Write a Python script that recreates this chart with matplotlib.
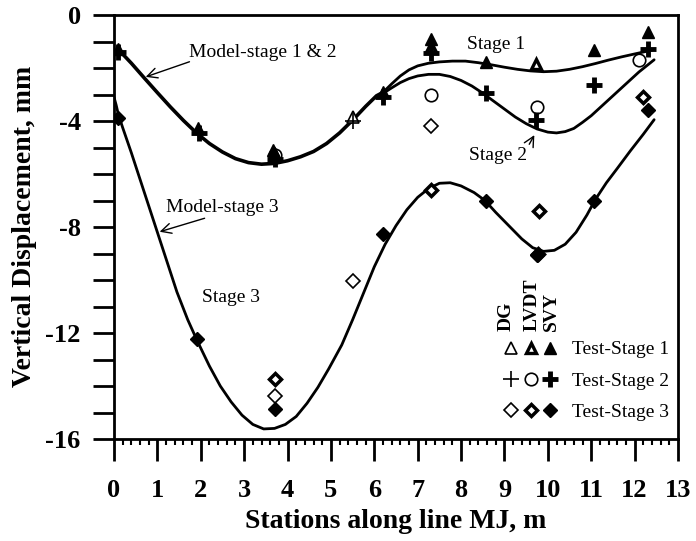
import matplotlib
matplotlib.use("Agg")
import matplotlib.pyplot as plt
from matplotlib.ticker import MultipleLocator, FixedLocator
from matplotlib.legend_handler import HandlerTuple
from matplotlib.lines import Line2D

plt.rcParams["font.family"] = ["Liberation Serif", "DejaVu Serif"]
plt.rcParams["axes.unicode_minus"] = False

# model curves
common_x = [0.1, 0.4, 0.7, 1.0, 1.3, 1.6, 1.9, 2.2, 2.5, 2.8, 3.1, 3.4, 3.7, 4.0, 4.3,
            4.6, 4.9, 5.2, 5.5, 5.8, 6.05, 6.2]
common_y = [-1.3, -1.82, -2.38, -2.93, -3.47, -3.98, -4.45, -4.85, -5.17, -5.42, -5.57,
            -5.63, -5.6, -5.5, -5.35, -5.15, -4.85, -4.45, -3.97, -3.45, -3.05, -2.92]

s1_x = [6.2, 6.4, 6.6, 6.8, 7.0, 7.25, 7.5, 7.8, 8.1, 8.4, 8.7, 9.0, 9.3, 9.6, 9.9,
        10.2, 10.5, 10.8, 11.1, 11.4, 11.7, 12.0, 12.25, 12.45]
s1_y = [-2.92, -2.6, -2.3, -2.07, -1.92, -1.82, -1.77, -1.74, -1.74, -1.8, -1.88, -1.97,
        -2.05, -2.11, -2.14, -2.12, -2.05, -1.95, -1.83, -1.7, -1.58, -1.47, -1.38, -1.3]

s2_x = [6.2, 6.4, 6.6, 6.8, 7.0, 7.25, 7.5, 7.75, 8.0, 8.25, 8.5, 8.75, 9.0, 9.25, 9.5,
        9.75, 10.0, 10.2, 10.4, 10.6, 10.8, 11.0, 11.2, 11.5, 11.8, 12.1, 12.45]
s2_y = [-2.96, -2.75, -2.55, -2.4, -2.3, -2.24, -2.24, -2.32, -2.47, -2.68, -2.95, -3.25,
        -3.55, -3.85, -4.1, -4.3, -4.42, -4.45, -4.4, -4.28, -4.05, -3.8, -3.5, -3.05,
        -2.6, -2.15, -1.69]

s3_x = [0.0, 0.05, 0.1, 0.2, 0.4, 0.6, 0.8, 1.0, 1.2, 1.45, 1.7, 1.92, 2.2, 2.45, 2.7,
        2.95, 3.2, 3.45, 3.7, 3.95, 4.2, 4.45, 4.7, 4.95, 5.25, 5.5, 5.75, 6.0, 6.25,
        6.5, 6.75, 7.0, 7.25, 7.5, 7.75, 8.0, 8.3, 8.55, 8.8, 9.1, 9.4, 9.65, 9.9,
        10.15, 10.4, 10.65, 10.9, 11.1, 11.35, 11.6, 11.9, 12.2, 12.45]
s3_y = [-3.1, -3.4, -3.75, -4.25, -5.2, -6.2, -7.2, -8.2, -9.2, -10.45, -11.5, -12.3,
        -13.25, -14.0, -14.6, -15.1, -15.45, -15.62, -15.6, -15.45, -15.15, -14.65,
        -14.05, -13.35, -12.45, -11.5, -10.5, -9.5, -8.65, -7.95, -7.35, -6.88, -6.55,
        -6.35, -6.33, -6.45, -6.7, -7.0, -7.45, -7.95, -8.45, -8.78, -8.92, -8.88,
        -8.65, -8.2, -7.55, -6.95, -6.33, -5.79, -5.13, -4.5, -3.95]

# test data: DG / LVDT / SVY for each stage
dg1_x, dg1_y = [5.5], [-3.85]
lv1_x, lv1_y = [3.7, 7.3, 9.72], [-5.3, -1.2, -1.85]
sv1_x = [0.09, 1.93, 3.67, 6.2, 7.3, 8.57, 11.06, 12.31]
sv1_y = [-1.3, -4.26, -5.1, -2.9, -0.9, -1.77, -1.32, -0.63]

dg2_x, dg2_y = [5.5], [-4.0]
lv2_x, lv2_y = [3.7, 7.3, 9.75, 12.1], [-5.3, -3.0, -3.47, -1.7]
sv2_x = [0.09, 1.95, 3.7, 6.2, 7.3, 8.57, 9.72, 11.06, 12.31]
sv2_y = [-1.38, -4.45, -5.45, -3.1, -1.45, -2.95, -3.97, -2.65, -1.3]

dg3_x, dg3_y = [3.72, 5.52, 7.3], [-14.38, -10.02, -4.2]
lv3_x, lv3_y = [3.72, 7.3, 9.8, 9.78, 12.19], [-13.74, -6.59, -7.4, -9.0, -3.1]
sv3_x = [0.09, 1.92, 3.72, 6.2, 8.57, 9.75, 11.06, 12.31]
sv3_y = [-3.88, -12.24, -14.87, -8.25, -7.0, -9.05, -7.0, -3.6]

x_ticks = list(range(0, 14))
y_ticks = [0, -4, -8, -12, -16]

fig = plt.figure(figsize=(6.96, 5.41), dpi=100)
ax = fig.add_axes([114 / 696, 1 - 439 / 541, 564 / 696, 424 / 541])

line_kw = dict(color="black", solid_joinstyle="round", solid_capstyle="round", zorder=2)
ax.plot(common_x, common_y, lw=2.6, **line_kw)
ax.plot(s1_x, s1_y, lw=2.0, **line_kw)
ax.plot(s2_x, s2_y, lw=2.0, **line_kw)
ax.plot(s3_x, s3_y, lw=2.0, **line_kw)

# marker styles
tri_dg = dict(marker="^", ms=8, mfc="white", mec="black", mew=1.2, ls="none")
tri_lv = dict(marker="^", ms=6.5, mfc="white", mec="black", mew=2.4, ls="none")
tri_sv = dict(marker="^", ms=8, mfc="black", mec="black", ls="none")
pl_dg = dict(marker="+", ms=11, mec="black", mew=1.2, ls="none")
ci_lv = dict(marker="o", ms=9, mfc="white", mec="black", mew=1.2, ls="none")
pl_sv = dict(marker="+", ms=11, mec="black", mew=3.5, ls="none")
di_dg = dict(marker="D", ms=7, mfc="white", mec="black", mew=1.2, ls="none")
di_lv = dict(marker="D", ms=6.3, mfc="white", mec="black", mew=2.5, ls="none")
di_sv = dict(marker="D", ms=7, mfc="black", mec="black", ls="none")

ax.plot(lv2_x, lv2_y, zorder=3, **ci_lv)
ax.plot(dg1_x, dg1_y, zorder=3, **tri_dg)
ax.plot(lv1_x, lv1_y, zorder=3, **tri_lv)
ax.plot(sv1_x, sv1_y, zorder=3, **tri_sv)
ax.plot(dg2_x, dg2_y, zorder=3, **pl_dg)
ax.plot(sv2_x, sv2_y, zorder=3, **pl_sv)
ax.plot(dg3_x, dg3_y, zorder=3, **di_dg)
ax.plot(lv3_x, lv3_y, zorder=3, **di_lv)
ax.plot(sv3_x, sv3_y, zorder=3, **di_sv)

ax.set_xlim(0, 13)
ax.set_ylim(-16, 0)
ax.xaxis.set_major_locator(FixedLocator(x_ticks))
ax.xaxis.set_minor_locator(MultipleLocator(0.2))
ax.yaxis.set_major_locator(FixedLocator(y_ticks))
ax.yaxis.set_minor_locator(MultipleLocator(1))
ax.tick_params(axis="x", which="major", direction="out", length=16, width=2, pad=13,
               labelsize=19)
ax.tick_params(axis="x", which="minor", direction="out", length=4.5, width=1.5)
ax.tick_params(axis="y", which="both", direction="out", length=15, width=2, pad=9,
               labelsize=19)
for lab in ax.get_xticklabels() + ax.get_yticklabels():
    lab.set_fontweight("bold")
for sp in ax.spines.values():
    sp.set_linewidth(2)

fig.text(25 / 696, 1 - 226 / 541, "Vertical Displacement, mm", rotation=90,
         ha="center", va="center", fontsize=20, fontweight="bold")
fig.text(396 / 696, 1 - 521 / 541, "Stations along line MJ, m",
         ha="center", va="center", fontsize=20, fontweight="bold")

# annotations
fs = 14
arrow = dict(arrowstyle="->", color="black", lw=1.0, mutation_scale=18)
ax.text(3.44, -1.43, "Model-stage 1 & 2", ha="center", va="center", fontsize=fs)
ax.annotate("", xy=(0.67, -2.37), xytext=(1.8, -1.73), arrowprops=arrow)
ax.text(8.8, -1.13, "Stage 1", ha="center", va="center", fontsize=fs)
ax.text(8.85, -5.31, "Stage 2", ha="center", va="center", fontsize=fs)
ax.annotate("", xy=(9.72, -4.44), xytext=(9.54, -4.97), arrowprops=arrow)
ax.text(2.49, -7.27, "Model-stage 3", ha="center", va="center", fontsize=fs)
ax.annotate("", xy=(0.99, -8.21), xytext=(2.15, -7.64), arrowprops=arrow)
ax.text(2.7, -10.66, "Stage 3", ha="center", va="center", fontsize=fs)

# legend with three instrument columns
handles = [
    (Line2D([], [], **tri_dg), Line2D([], [], **tri_lv), Line2D([], [], **tri_sv)),
    (Line2D([], [], **pl_dg), Line2D([], [], **ci_lv), Line2D([], [], **pl_sv)),
    (Line2D([], [], **di_dg), Line2D([], [], **di_lv), Line2D([], [], **di_sv)),
]
labels = ["Test-Stage 1", "Test-Stage 2", "Test-Stage 3"]
ax.legend(handles, labels, handler_map={tuple: HandlerTuple(ndivide=None, pad=0.3)},
          loc="lower left", bbox_to_anchor=(0.675, 0.02), frameon=False, fontsize=fs,
          handlelength=2.7, handletextpad=0.8, labelspacing=0.7, borderpad=0)

for x, name in [(9.03, "DG"), (9.63, "LVDT"), (10.08, "SVY")]:
    ax.text(x, -11.93, name, rotation=90, ha="center", va="bottom", fontsize=14,
            fontweight="bold")

fig.savefig("out.png", dpi=100)
